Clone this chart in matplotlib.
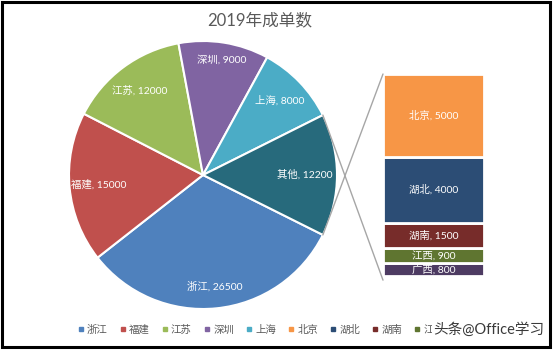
import numpy as np
import matplotlib
matplotlib.use("Agg")
import matplotlib.pyplot as plt
from matplotlib.patches import ConnectionPatch, Rectangle
from matplotlib.lines import Line2D

plt.rcParams['font.family'] = ['Lato', 'Noto Sans CJK SC', 'DejaVu Sans']

# main pie
pie_names = ['浙江', '福建', '江苏', '深圳', '上海', '其他']
pie_values = [26500, 15000, 12000, 9000, 8000, 12200]
pie_colors = ['#4F81BD', '#C0504D', '#9BBB59', '#8064A2', '#4BACC6', '#276A7C']

# breakdown of "其他"
bar_names = ['北京', '湖北', '湖南', '江西', '广西']
bar_values = [5000, 4000, 1500, 900, 800]
bar_colors = ['#F79646', '#2C4D75', '#772C2A', '#5F7530', '#4D3B62']

W, H = 554, 350
fig = plt.figure(figsize=(W / 100, H / 100), dpi=100)

# pie axes: centre (203,175) px, radius 134 px
cx, cy, r = 203, 175, 134
ax = fig.add_axes([(cx - r) / W, (H - cy - r) / H, 2 * r / W, 2 * r / H])
total = sum(pie_values)
other_span = pie_values[-1] / total * 360
start = -other_span / 2
wedges, _ = ax.pie(pie_values, colors=pie_colors, startangle=start, counterclock=False,
                   wedgeprops=dict(edgecolor='white', linewidth=1.5))
ax.set_xlim(-1, 1)
ax.set_ylim(-1, 1)
for w in wedges:
    w.set_clip_on(False)

label_r = [0.84, 0.78, 0.79, 0.87, 0.8, 0.76]
for w, name, val, lr in zip(wedges, pie_names, pie_values, label_r):
    mid = np.deg2rad((w.theta1 + w.theta2) / 2)
    ax.text(lr * np.cos(mid), lr * np.sin(mid), f'{name}, {val}', color='white',
            fontsize=7.5, ha='center', va='center')

# stacked bar for 其他
bx0, bx1, by0, by1 = 383, 484, 74, 276
bax = fig.add_axes([bx0 / W, (H - by1) / H, (bx1 - bx0) / W, (by1 - by0) / H])
bottom = 0
for name, val, col in list(zip(bar_names, bar_values, bar_colors))[::-1]:
    bax.bar(0, val, width=1, bottom=bottom, align='edge', color=col,
            edgecolor='white', linewidth=2)
    bax.text(0.5, bottom + val / 2, f'{name}, {val}', color='white', fontsize=7.5,
             ha='center', va='center')
    bottom += val
bax.set_xlim(0, 1)
bax.set_ylim(0, sum(bar_values))
bax.axis('off')

# connector lines
t_top = np.deg2rad(wedges[-1].theta1)
t_bot = np.deg2rad(wedges[-1].theta2)
for t, yb in [(t_top, sum(bar_values)), (t_bot, -250)]:
    con = ConnectionPatch(xyA=(np.cos(t), np.sin(t)), coordsA=ax.transData,
                          xyB=(0, yb), coordsB=bax.transData,
                          color='#A6A6A6', linewidth=1)
    fig.add_artist(con)

fig.text(260 / W, 1 - 20 / H, '2019年成单数', ha='center', va='center',
         fontsize=12, color='#595959')

handles = [Line2D([], [], marker='s', linestyle='none', markersize=3.5, color=c)
           for c in pie_colors[:-1] + bar_colors]
fig.legend(handles, pie_names[:-1] + bar_names, ncol=10, loc='center',
           bbox_to_anchor=(282 / W, 1 - 330 / H), frameon=False, fontsize=7.5,
           handlelength=0.6, handletextpad=0.3, columnspacing=1.15,
           labelcolor='#595959')

# watermark sits on top of the end of the legend
fig.text(489 / W, 1 - 330 / H, '头条@Office学习', ha='center', va='center',
         fontsize=10.5, color='#3A3A3A', zorder=10,
         bbox=dict(boxstyle='square,pad=0.1', facecolor='white', edgecolor='none'))

fig.add_artist(Rectangle((1.5 / W, 3 / H), 548 / W, 345.5 / H, transform=fig.transFigure,
                         fill=False, edgecolor='black', linewidth=2.2, zorder=11))

fig.savefig('out.png', dpi=100)
